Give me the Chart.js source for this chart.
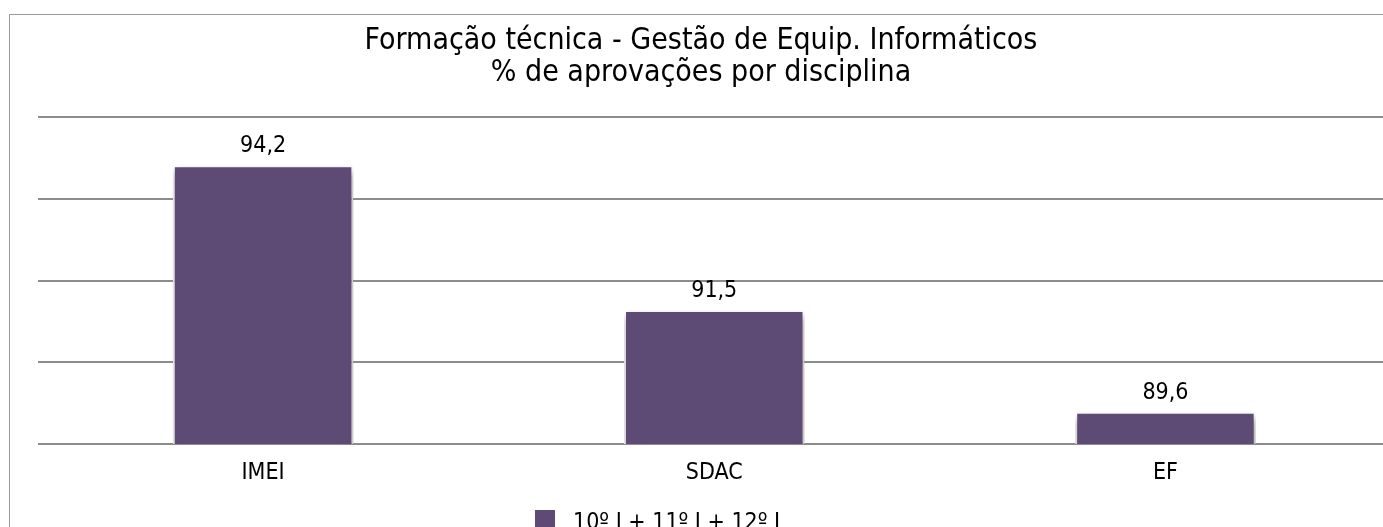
<!DOCTYPE html>
<html><head><meta charset="utf-8">
<script src="https://cdn.jsdelivr.net/npm/chart.js@4"></script>
<style>
html,body{margin:0;padding:0;background:#fff;overflow:hidden;width:1383px;height:527px;}
#frame{position:absolute;left:9px;top:14px;width:1500px;height:600px;border-left:1px solid #9a9a9a;border-top:1px solid #9a9a9a;}
#wrap{position:absolute;left:0;top:0;width:1400px;height:527px;}
</style></head><body>
<div id="frame"></div>
<div id="wrap"><canvas id="c" width="1400" height="527"></canvas></div>
<script>
const titleLines = ['Formação técnica - Gestão de Equip. Informáticos', '% de aprovações por disciplina'];
const categories = ['IMEI', 'SDAC', 'EF'];
const seriesLabel = '10º I + 11º I + 12º I';
const values = [94.2, 91.5, 89.6];
const axisMin = 89;
const axisMax = 95.1;
const gridLineCount = 5;

const FONT = "'DejaVu Sans Condensed', 'DejaVu Sans', sans-serif";
const BAR_COLOR = '#5D4A75';

const barDecor = {
  id: 'barDecor',
  beforeDatasetsDraw(chart) {
    const ctx = chart.ctx;
    ctx.save();
    ctx.shadowColor = 'rgba(0,0,0,0.45)';
    ctx.shadowBlur = 8;
    ctx.shadowOffsetX = 1;
    ctx.shadowOffsetY = 5;
  },
  afterDatasetsDraw(chart) {
    const ctx = chart.ctx;
    ctx.restore();
    ctx.save();
    ctx.font = '23px ' + FONT;
    ctx.fillStyle = '#000';
    ctx.textAlign = 'center';
    ctx.textBaseline = 'alphabetic';
    chart.data.datasets.forEach((ds, di) => {
      chart.getDatasetMeta(di).data.forEach((el, i) => {
        const txt = String(ds.data[i]).replace('.', ',');
        ctx.fillText(txt, el.x, el.y - 13);
      });
    });
    ctx.restore();
  },
  afterDraw(chart) {
    const ctx = chart.ctx;
    const ds = chart.data.datasets[0];
    ctx.save();
    ctx.fillStyle = ds.backgroundColor;
    ctx.fillRect(535, 510, 20, 20);
    ctx.font = '23px ' + FONT;
    ctx.fillStyle = '#000';
    ctx.textAlign = 'left';
    ctx.textBaseline = 'alphabetic';
    ctx.fillText(ds.label, 573, 529);
    ctx.restore();
  }
};

new Chart(document.getElementById('c'), {
  type: 'bar',
  data: {
    labels: categories,
    datasets: [{
      label: seriesLabel,
      data: values,
      backgroundColor: BAR_COLOR,
      borderColor: '#ffffff',
      borderWidth: 2,
      barPercentage: 0.4,
      categoryPercentage: 1.0
    }]
  },
  options: {
    responsive: false,
    animation: false,
    layout: { padding: { left: 11, right: 9, top: 0, bottom: 43 } },
    plugins: {
      legend: { display: false },
      tooltip: { enabled: false },
      title: {
        display: true,
        text: titleLines,
        color: '#000',
        font: { family: FONT, size: 30, weight: 'normal', lineHeight: 1.067 },
        padding: { top: 25, bottom: 28 }
      }
    },
    scales: {
      x: {
        grid: { display: false, drawTicks: false },
        border: { display: false },
        ticks: { color: '#000', font: { family: FONT, size: 23 }, padding: 15 },
        afterFit(s) { s.height = 40; }
      },
      y: {
        min: axisMin,
        max: axisMax,
        grid: { color: '#8c8c8c', lineWidth: 2, drawTicks: false },
        border: { display: false },
        ticks: { display: false },
        afterBuildTicks(s) {
          const t = [];
          for (let i = 0; i < gridLineCount; i++) t.push({ value: axisMin + i * (axisMax - axisMin) / (gridLineCount - 1) });
          s.ticks = t;
        },
        afterFit(s) { s.width = 26.5; }
      }
    }
  },
  plugins: [barDecor]
});
</script>
</body></html>
